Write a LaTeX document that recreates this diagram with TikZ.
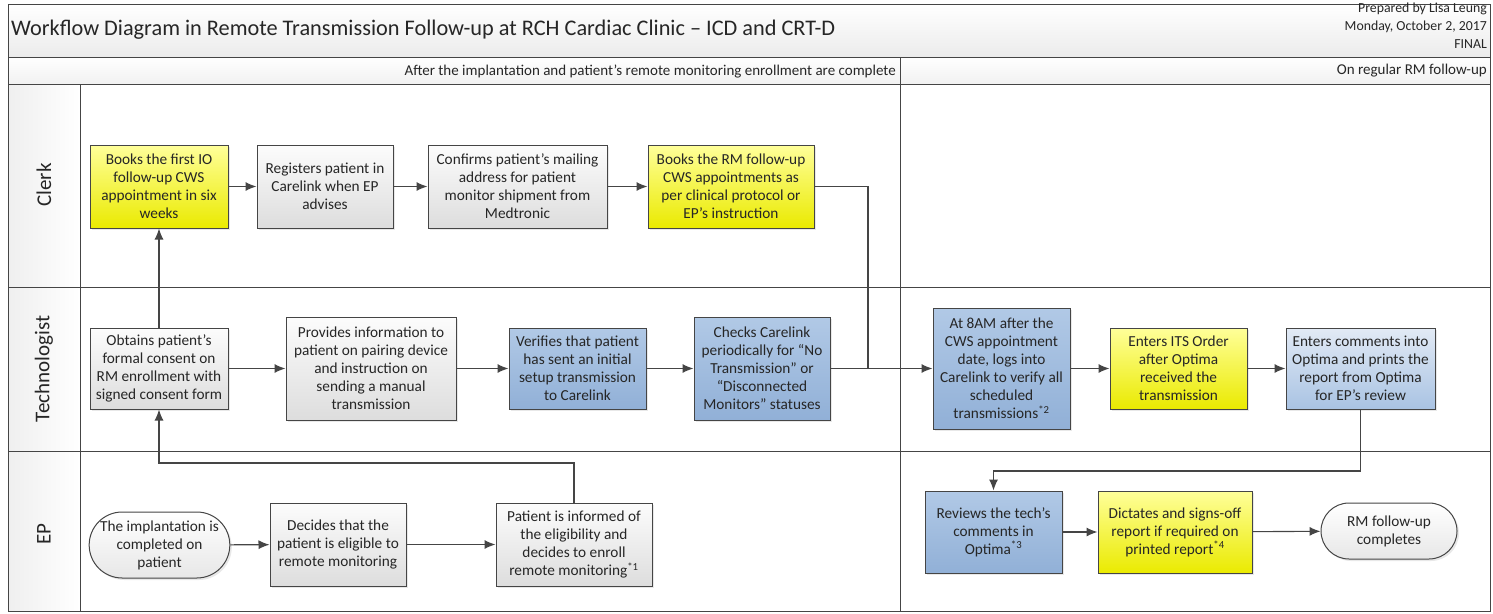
\documentclass[tikz,border=0pt]{standalone}
\usepackage{fontspec}
\setmainfont{Carlito}
\usetikzlibrary{arrows.meta,shadows,shapes.misc}

\definecolor{lineC}{HTML}{454545}
\definecolor{yTop}{HTML}{FFFF9A}
\definecolor{yBot}{HTML}{EAEA00}
\definecolor{gTop}{HTML}{FCFCFC}
\definecolor{gBot}{HTML}{DDDDDD}
\definecolor{bTop}{HTML}{B1C9E6}
\definecolor{bBot}{HTML}{91B0D7}
\definecolor{lbTop}{HTML}{E2EAF5}
\definecolor{lbBot}{HTML}{A9C3E3}
\definecolor{hTop}{HTML}{FFFFFF}
\definecolor{hBot}{HTML}{EBEBEB}
\definecolor{txt}{HTML}{262626}

\begin{document}
\begin{tikzpicture}[x=1pt,y=-1pt,
  every node/.style={font=\fontsize{15.3}{18}\selectfont, inner sep=0pt, text=txt},
  frame/.style={draw=lineC, line width=1pt},
  flow/.style={draw=lineC, line width=1.1pt},
  arr/.style={flow, -{Latex[length=11pt,width=9pt]}},
  boxbase/.style={draw=lineC, line width=1pt, align=center,
    drop shadow={opacity=0.18, shadow xshift=2pt, shadow yshift=-2pt}},
  ybox/.style={boxbase, top color=yTop, bottom color=yBot},
  gbox/.style={boxbase, top color=gTop, bottom color=gBot},
  bbox/.style={boxbase, top color=bTop, bottom color=bBot},
  lbbox/.style={boxbase, top color=lbTop, bottom color=lbBot},
  terminal/.style={boxbase, rounded rectangle, top color=white, bottom color=gBot!70},
  lanelabel/.style={rotate=90, font=\fontsize{21}{25}\selectfont},
  smalltext/.style={font=\fontsize{15}{17.5}\selectfont},
  metatext/.style={font=\fontsize{13.8}{18}\selectfont}
]
\useasboundingbox (0,0) rectangle (1493,613);

% header bands and lane label column
\shade[top color=hTop, bottom color=hBot] (8,4) rectangle (1490,57);
\shade[top color=hTop, bottom color=hBot!70] (8,57) rectangle (1490,84);
\shade[left color=hBot!80, right color=hTop] (8,84) rectangle (80,611);

% swimlane frame
\draw[frame] (8,4) rectangle (1490,611);
\draw[frame] (8,57) -- (1490,57);
\draw[frame] (8,84) -- (1490,84);
\draw[frame] (8,287) -- (1490,287);
\draw[frame] (8,451) -- (1490,451);
\draw[frame] (80,84) -- (80,611);
\draw[frame] (900,57) -- (900,611);

% titles
\node[anchor=west, font=\fontsize{22.3}{26}\selectfont] (title) at (11,30)
  {Workflow Diagram in Remote Transmission Follow-up at RCH Cardiac Clinic – ICD and CRT-D};
\node[metatext, anchor=north east, align=right] (author) at (1487,3)
  {Prepared by Lisa Leung\\Monday, October 2, 2017\\FINAL};
\node[smalltext, anchor=east] (phase1) at (896,71)
  {After the implantation and patient’s remote monitoring enrollment are complete};
\node[smalltext, anchor=east] (phase2) at (1487,71) {On regular RM follow-up};

% lane names
\node[lanelabel] (lclerk) at (44,185) {Clerk};
\node[lanelabel] (ltech) at (44,369) {Technologist};
\node[lanelabel] (lep) at (44,534) {EP};

% Clerk lane
\node[ybox, minimum width=138pt, minimum height=83pt] (b1) at (159,186.5)
  {Books the first IO\\follow-up CWS\\appointment in six\\weeks};
\node[gbox, minimum width=136pt, minimum height=83pt] (b2) at (325,186.5)
  {Registers patient in\\Carelink when EP\\advises};
\node[gbox, minimum width=179pt, minimum height=83pt] (b3) at (517.5,186.5)
  {Confirms patient’s mailing\\address for patient\\monitor shipment from\\Medtronic};
\node[ybox, minimum width=166pt, minimum height=83pt] (b4) at (731,186.5)
  {Books the RM follow-up\\CWS appointments as\\per clinical protocol or\\EP’s instruction};

% Technologist lane
\node[gbox, minimum width=138pt, minimum height=81pt] (t1) at (159,368.5)
  {Obtains patient’s\\formal consent on\\RM enrollment with\\signed consent form};
\node[gbox, minimum width=170pt, minimum height=103pt] (t2) at (371,368.5)
  {Provides information to\\patient on pairing device\\and instruction on\\sending a manual\\transmission};
\node[bbox, minimum width=137pt, minimum height=81pt] (t3) at (577.5,368.5)
  {Verifies that patient\\has sent an initial\\setup transmission\\to Carelink};
\node[bbox, minimum width=136pt, minimum height=103pt] (t4) at (762,368.5)
  {Checks Carelink\\periodically for “No\\Transmission” or\\“Disconnected\\Monitors” statuses};
\node[bbox, minimum width=137pt, minimum height=121pt] (t5) at (1001.5,368.5)
  {At 8AM after the\\CWS appointment\\date, logs into\\Carelink to verify all\\scheduled\\transmissions\textsuperscript{*2}};
\node[ybox, minimum width=137pt, minimum height=81pt] (t6) at (1178.5,368.5)
  {Enters ITS Order\\after Optima\\received the\\transmission};
\node[lbbox, minimum width=149pt, minimum height=81pt] (t7) at (1360.5,368.5)
  {Enters comments into\\Optima and prints the\\report from Optima\\for EP’s review};

% EP lane
\node[terminal, minimum width=137pt, minimum height=66pt] (e1) at (159.5,545)
  {The implantation is\\completed on\\patient};
\node[gbox, minimum width=136pt, minimum height=83pt] (e2) at (338,544.5)
  {Decides that the\\patient is eligible to\\remote monitoring};
\node[gbox, minimum width=156pt, minimum height=83pt] (e3) at (574,544.5)
  {Patient is informed of\\the eligibility and\\decides to enroll\\remote monitoring\textsuperscript{*1}};
\node[bbox, minimum width=137pt, minimum height=82pt] (e4) at (993.5,532)
  {Reviews the tech’s\\comments in\\Optima\textsuperscript{*3}};
\node[ybox, minimum width=154pt, minimum height=82pt] (e5) at (1175,532)
  {Dictates and signs-off\\report if required on\\printed report\textsuperscript{*4}};
\node[terminal, minimum width=136pt, minimum height=56pt] (e6) at (1389,531)
  {RM follow-up\\completes};

% routing points
\coordinate (j1) at (868,368.5);
\coordinate (k1) at (0,471);
\coordinate (k2) at (0,463);

% connectors
\draw[arr] (b1) -- (b2);
\draw[arr] (b2) -- (b3);
\draw[arr] (b3) -- (b4);
\draw[flow] (b4.east) -| (j1);

\draw[arr] (t1.north) -- (b1.south);
\draw[arr] (t1) -- (t2);
\draw[arr] (t2) -- (t3);
\draw[arr] (t3) -- (t4);
\draw[arr] (t4) -- (t5);
\draw[arr] (t5) -- (t6);
\draw[arr] (t6) -- (t7);
\draw[arr] (t7.south) -- (t7.south |- k1) -| (e4.north);

\draw[arr] (e1) -- (e2);
\draw[arr] (e2) -- (e3);
\draw[arr] (e3.north) -- (e3.north |- k2) -| (t1.south);
\draw[arr] (e4) -- (e5);
\draw[arr] (e5) -- (e6);
\end{tikzpicture}
\end{document}
